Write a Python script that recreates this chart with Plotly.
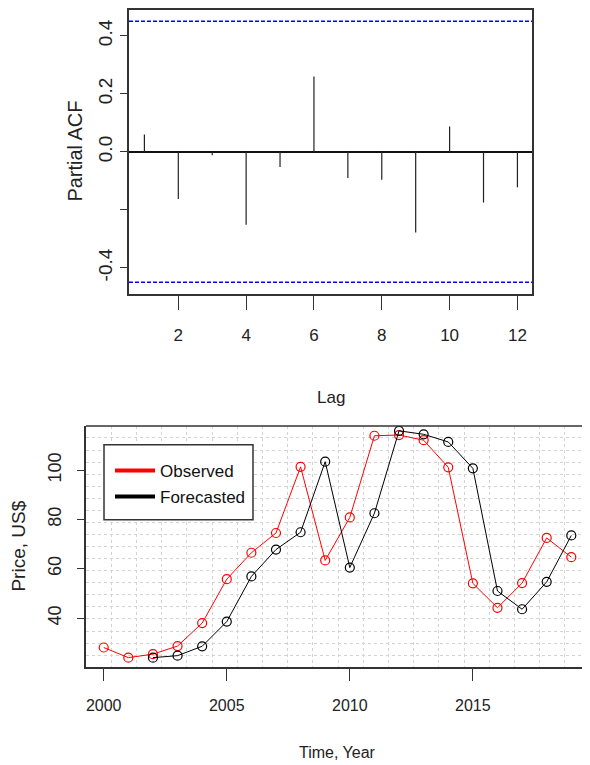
import plotly.graph_objects as go

# ---------------- data ----------------
lags = list(range(1, 13))
pacf = [0.060, -0.163, -0.012, -0.251, -0.052, 0.260,
        -0.090, -0.096, -0.278, 0.087, -0.175, -0.122]
ci_bound = 0.45
pacf_tickvals = [-0.4, -0.2, 0.0, 0.2, 0.4]
pacf_ticktext = ["-0.4", "", "0.0", "0.2", "0.4"]
lag_tickvals = [2, 4, 6, 8, 10, 12]

years = list(range(2000, 2020))
observed = [28.1, 24.0, 25.4, 28.7, 38.0, 55.8, 66.5, 74.5, 101.3, 63.4,
            80.8, 113.9, 114.2, 112.1, 101.1, 54.1, 44.2, 54.2, 72.5, 64.7]
fc_years = list(range(2002, 2020))
forecasted = [24.0, 24.8, 28.6, 38.6, 56.9, 67.8, 74.8, 103.4, 60.5, 82.5,
              115.9, 114.5, 111.4, 100.7, 51.0, 43.6, 54.7, 73.5]
year_tickvals = [2000, 2005, 2010, 2015]
price_tickvals = [40, 60, 80, 100]

# ---------------- styling ----------------
OFF = 8                      # default page margin of the html body
W, H = 590 - OFF, 765 - OFF
FONT = "Liberation Sans, Arial, sans-serif"
AX = "#333333"


def px_x(v):
    return min(max((v - OFF) / W, 0), 1)


def px_y(v):
    return min(max(1 - (v - OFF) / H, 0), 1)


x1_range = [0.546, 12.43]
y1_range = [-0.491, 0.489]
x2_range = [1999.28, 2019.76]
y2_range = [20.1, 117.9]

# spike segments built from data
sx, sy = [], []
for l, v in zip(lags, pacf):
    sx += [l, l, None]
    sy += [0, v, None]

fig = go.Figure()
fig.add_trace(go.Scatter(x=sx, y=sy, mode="lines", line=dict(color="#222222", width=1.2),
                         xaxis="x", yaxis="y", showlegend=False, hoverinfo="skip"))

fig.add_trace(go.Scatter(x=years, y=observed, mode="lines+markers",
                         line=dict(color="red", width=1),
                         marker=dict(symbol="circle-open", size=9, color="red", line=dict(width=1.2)),
                         xaxis="x2", yaxis="y2", showlegend=False, name="Observed"))
fig.add_trace(go.Scatter(x=fc_years, y=forecasted, mode="lines+markers",
                         line=dict(color="black", width=1),
                         marker=dict(symbol="circle-open", size=9, color="black", line=dict(width=1.2)),
                         xaxis="x2", yaxis="y2", showlegend=False, name="Forecasted"))
# legend entries
fig.add_trace(go.Scatter(x=[None], y=[None], mode="lines", line=dict(color="red", width=4),
                         name="Observed", legendgroup="a", xaxis="x2", yaxis="y2"))
fig.add_trace(go.Scatter(x=[None], y=[None], mode="lines", line=dict(color="black", width=4),
                         name="Forecasted", legendgroup="b", xaxis="x2", yaxis="y2"))

grid_x = [x2_range[0] + k * (x2_range[1] - x2_range[0]) / 20 for k in range(1, 20)]
grid_y = [y2_range[0] + k * (y2_range[1] - y2_range[0]) / 20 for k in range(1, 20)]

common_axis = dict(showline=True, linecolor=AX, linewidth=1.5, ticks="outside",
                   tickcolor=AX, tickwidth=1.2, showgrid=False)

fig.update_layout(
    width=W, height=H,
    margin=dict(l=0, r=0, t=0, b=0),
    paper_bgcolor="white", plot_bgcolor="white",
    font=dict(family=FONT, size=16, color="#222222"),
    xaxis=dict(domain=[px_x(129), px_x(532)], range=x1_range, anchor="y",
               tickvals=lag_tickvals, ticklen=14, mirror=True, zeroline=False,
               tickfont=dict(size=17), ticklabelstandoff=11,
               **common_axis),
    yaxis=dict(domain=[px_y(293), px_y(7)], range=y1_range, anchor="x",
               tickvals=pacf_tickvals, ticktext=pacf_ticktext, ticklen=7, mirror=True,
               tickangle=-90, tickfont=dict(size=19), ticklabelstandoff=1,
               zeroline=True, zerolinecolor="#111111", zerolinewidth=1.5,
               **common_axis),
    xaxis2=dict(domain=[px_x(86), 1.0], range=x2_range, anchor="y2", zeroline=False,
                tickvals=year_tickvals, ticklen=12,
                tickfont=dict(size=16), ticklabelstandoff=11,
                minor=dict(tickvals=grid_x, showgrid=True, gridcolor="#d3d3d3",
                           griddash="dot", gridwidth=1, ticklen=0),
                **common_axis),
    yaxis2=dict(domain=[px_y(667), px_y(425)], range=y2_range, anchor="x2", zeroline=False,
                tickvals=price_tickvals, ticklen=7, tickangle=-90,
                tickfont=dict(size=18), ticklabelstandoff=9,
                minor=dict(tickvals=grid_y, showgrid=True, gridcolor="#d3d3d3",
                           griddash="dot", gridwidth=1, ticklen=0),
                **common_axis),
    legend=dict(x=px_x(110), y=px_y(452), xanchor="left", yanchor="top",
                bgcolor="rgba(0,0,0,0)", borderwidth=0,
                font=dict(size=17, color="#111111"),
                tracegroupgap=1, itemwidth=40),
    shapes=[
        dict(type="line", xref="x domain", yref="y", x0=0, x1=1, y0=ci_bound, y1=ci_bound,
             line=dict(color="blue", width=1.5, dash="4px,2px")),
        dict(type="line", xref="x domain", yref="y", x0=0, x1=1, y0=-ci_bound, y1=-ci_bound,
             line=dict(color="blue", width=1.5, dash="4px,2px")),
        dict(type="line", xref="x2 domain", yref="y2 domain", x0=0, x1=1, y0=1, y1=1,
             line=dict(color=AX, width=1.5), layer="above"),
        dict(type="rect", xref="paper", yref="paper",
             x0=px_x(104), x1=px_x(253), y0=px_y(519), y1=px_y(444),
             line=dict(color=AX, width=1.5), fillcolor="white", layer="above"),
    ],
    annotations=[
        dict(text="Partial ACF", x=px_x(75), y=px_y(150), xref="paper", yref="paper",
             xanchor="center", yanchor="middle",
             textangle=-90, showarrow=False, font=dict(size=20)),
        dict(text="Lag", x=px_x(330.5), y=px_y(397), xref="paper", yref="paper",
             xanchor="center", yanchor="middle",
             showarrow=False, font=dict(size=17)),
        dict(text="Price, US$", x=px_x(19), y=px_y(546), xref="paper", yref="paper",
             xanchor="center", yanchor="middle",
             textangle=-90, showarrow=False, font=dict(size=19)),
        dict(text="Time, Year", x=px_x(337), y=px_y(752), xref="paper", yref="paper",
             xanchor="center", yanchor="middle",
             showarrow=False, font=dict(size=16)),
    ],
)

fig.write_html("out.html")
